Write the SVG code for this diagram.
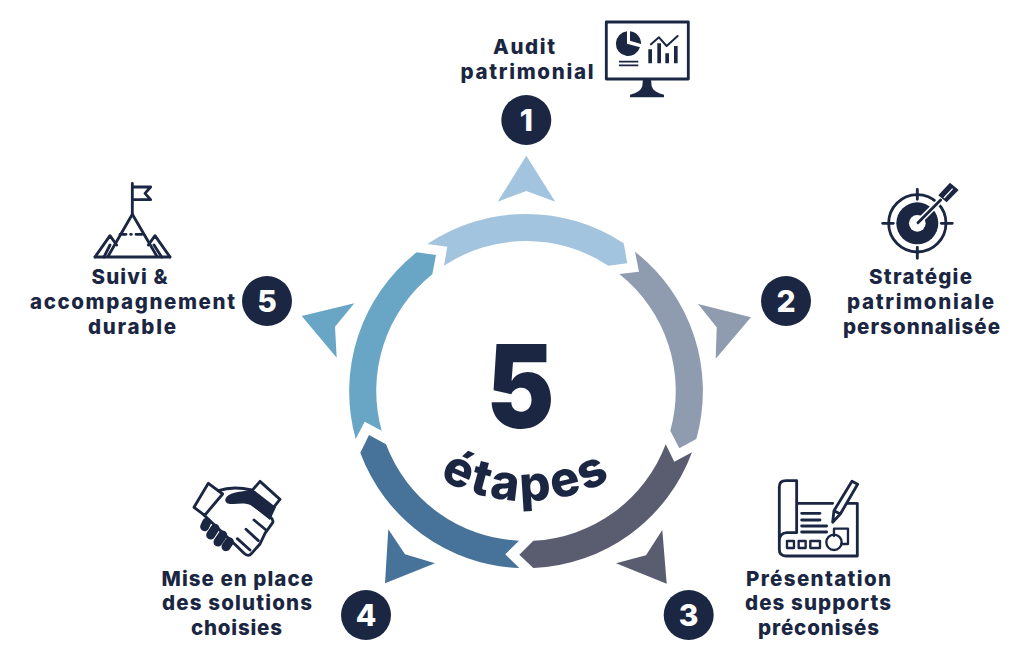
<svg xmlns="http://www.w3.org/2000/svg" width="1030" height="662" viewBox="0 0 1030 662">
<style>
text{font-family:"Inter","Noto Sans","Liberation Sans",sans-serif;font-weight:800;fill:#1a2642}
.l{font-size:20.5px}
.n{font-size:30px;fill:#fff;text-anchor:middle}
.b{fill:#1a2642}
.i{fill:none;stroke:#1a2642;stroke-width:8.5;stroke-linejoin:round;stroke-linecap:round}
.f{fill:#1a2642;stroke:none}
.w{stroke:#fff}
</style>
<rect width="1030" height="662" fill="#fff"/>
<g id="ring">
<path fill="#a3c4de" d="M427.3 244L447.3 246.7L444 265.7A149 149 0 0 1 608.3 265.7L627.3 263.3L623.7 243.3A177 177 0 0 0 427.3 244Z"/>
<path fill="#8f9cb0" d="M635 251.7L639 271.7L619.3 274A149 149 0 0 1 670.3 430.7L679.3 448.3L696.3 439A177 177 0 0 0 635 251.7Z"/>
<path fill="#5a5c70" d="M692 452.3L674.3 461.7L665.7 444.3A149 149 0 0 1 533.3 540.7L519.3 554.7L533.3 568A177 177 0 0 0 692 452.3Z"/>
<path fill="#47729a" d="M519.3 568L505.3 554.3L519 540.7A149 149 0 0 1 386 444.3L369 435L360.3 452.7A177 177 0 0 0 519.3 568Z"/>
<path fill="#69a6c6" d="M355.7 439L364.7 421.7L381.7 430.7A149 149 0 0 1 432.3 274.3L436 255L416.7 252.3A177 177 0 0 0 355.7 439Z"/>
</g>
<g id="connectors">
<path fill="#a3c4de" d="M526.3 155.7L555.3 201.7L526.3 191L497.7 201.7Z"/>
<path fill="#8f9cb0" d="M698 304L751 317.3L715.7 358.7L716.7 327.3Z"/>
<path fill="#5a5c70" d="M662.3 530L666.7 583.7L616 563.3L646 555.3Z"/>
<path fill="#47729a" d="M388.3 529.3L405 554.3L435 563.3L385 583.3Z"/>
<path fill="#69a6c6" d="M354.3 303.3L335 326.7L336.7 357.7L301.7 316Z"/>
</g>
<g id="center">
<text x="486.5" y="428" font-size="116" textLength="68" lengthAdjust="spacingAndGlyphs" style="font-weight:900">5</text>
<path id="arc" fill="none" d="M410 458A178 178 0 0 0 642 458"/>
<text font-size="49" letter-spacing="2.5"><textPath href="#arc" startOffset="50%" text-anchor="middle">étapes</textPath></text>
</g>
<g id="node-1">
<circle class="b" cx="526.3" cy="120" r="25"/>
<text class="n" x="526.3" y="131">1</text>
<text class="l" x="493" y="54" textLength="62" lengthAdjust="spacing">Audit</text>
<text class="l" x="460.5" y="78.500" textLength="133" lengthAdjust="spacing">patrimonial</text>
<g transform="translate(450 10) scale(.3333)">
<rect class="i" x="469" y="36" width="246" height="171"/>
<path class="f" d="M603 207L605 228Q610 248 642 254V262H540V254Q572 248 577 228L579 207Z"/>
<path class="f" d="M531 64A37 37 0 1 0 570 112L531 101Z"/>
<path class="f" d="M540 64A36 36 0 0 1 573 102L540 92Z"/>
<path class="i" style="stroke-width:5;stroke-linecap:butt" d="M507 155H565M507 166H565"/>
<path class="f" d="M595 118H606V160H595ZM622 100H633V160H622ZM646 130H657V160H646ZM672 108H683V160H672Z"/>
<path class="i" style="stroke-width:6" d="M603 103L627 82L650 108L683 78"/>
</g>
</g>
<g id="node-2">
<circle class="b" cx="786" cy="301" r="25"/>
<text class="n" x="786" y="312">2</text>
<text class="l" x="869" y="283.500" textLength="103" lengthAdjust="spacing">Stratégie</text>
<text class="l" x="847" y="308.500" textLength="147" lengthAdjust="spacing">patrimoniale</text>
<text class="l" x="843" y="333.500" textLength="157" lengthAdjust="spacing">personnalisée</text>
<g transform="translate(690 170) scale(.3333)">
<circle class="i" cx="682" cy="160" r="86"/>
<circle class="f" cx="682" cy="160" r="63"/>
<circle cx="682" cy="160" r="25" fill="#fff"/>
<path class="i" d="M682 58V88M682 232V265M578 160H610M754 160H787"/>
<path class="i w" style="stroke-width:18" d="M684 158L750 92"/>
<path class="i" d="M684 158L752 90"/>
<path class="f" d="M745 76L780 38L806 60L770 97Z"/>
<path class="w" style="stroke-width:4" fill="none" d="M762 84L788 56"/>
</g>
</g>
<g id="node-3">
<circle class="b" cx="688.7" cy="615" r="25"/>
<text class="n" x="688.7" y="626">3</text>
<text class="l" x="746" y="585.500" textLength="145" lengthAdjust="spacing">Présentation</text>
<text class="l" x="745" y="610" textLength="146" lengthAdjust="spacing">des supports</text>
<text class="l" x="758" y="634.500" textLength="121" lengthAdjust="spacing">préconisés</text>
<g transform="translate(610 470) scale(.3333)">
<path class="i" d="M560 100H668M712 100H742V258H528Q508 258 508 238V50Q508 32 528 32H560V188H530Q508 190 508 212"/>
<path class="i" d="M575 130H630M575 150H630M575 168H650M575 186H650"/>
<path class="i" style="stroke-width:7" d="M531 213H552V234H531ZM566 213H587V234H566ZM601 213H630V234H601Z"/>
<path class="i" style="stroke-width:7" d="M672 198V176H714V222H694"/>
<circle class="i" style="stroke-width:7" cx="672" cy="217" r="23"/>
<path class="i" d="M668 157L672 122L726 34L743 43L691 132ZM672 122L691 132"/>
</g>
</g>
<g id="node-4">
<circle class="b" cx="366" cy="615" r="25"/>
<text class="n" x="366" y="626">4</text>
<text class="l" x="161.5" y="585.500" textLength="151.500" lengthAdjust="spacing">Mise en place</text>
<text class="l" x="162" y="610" textLength="150" lengthAdjust="spacing">des solutions</text>
<text class="l" x="191" y="634.500" textLength="91" lengthAdjust="spacing">choisies</text>
<g transform="translate(150 470) scale(.3333)">
<path class="i" d="M175 40L218 72L164 136L132 112Z"/>
<path class="i" d="M330 34L390 88L366 118L306 62Z"/>
<path class="f" d="M302 60C280 64 245 66 230 80C220 92 228 104 250 102C268 100 290 98 304 106L360 150L378 112L308 58Z"/>
<path class="i" d="M205 62C235 52 270 52 305 60M162 135L260 228L282 250Q295 262 305 250L330 222L345 190L368 158Q372 150 360 140L296 96"/>
<path class="i" d="M312 150L348 180M288 178L325 212M262 206L300 240"/>
<path class="i" style="stroke-width:27" d="M170 157L164 170M195 175L182 195M218 195L204 216M238 215L228 230"/>
</g>
</g>
<g id="node-5">
<circle class="b" cx="267" cy="301" r="25"/>
<text class="n" x="267" y="312">5</text>
<text class="l" x="91.500" y="283.500" textLength="76" lengthAdjust="spacing">Suivi &amp;</text>
<text class="l" x="30" y="308.500" textLength="205" lengthAdjust="spacing">accompagnement</text>
<text class="l" x="88" y="333.500" textLength="88" lengthAdjust="spacing">durable</text>
<g transform="translate(20 175) scale(.3333)">
<path class="i" d="M337 25V115M337 36H392L375 55L392 74H337"/>
<path class="i" d="M225 246H450M263 246L337 118L412 246"/>
<path class="i" d="M252 246L270 210M225 246L270 182L290 210M425 246L402 210M450 246L405 182L385 210"/>
<path class="i" d="M300 178H318M332 178H334M348 178H366"/>
</g>
</g>
</svg>
